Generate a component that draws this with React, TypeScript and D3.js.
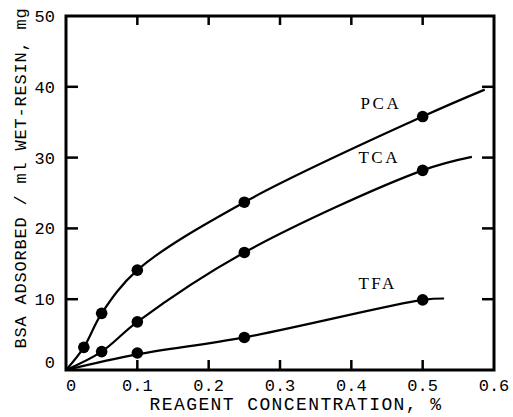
import React from "react";
import * as d3 from "d3";

const W = 513;
const H = 417;

const xTicks = [0, 0.1, 0.2, 0.3, 0.4, 0.5, 0.6];
const xTickLabels = ["0", "0.1", "0.2", "0.3", "0.4", "0.5", "0.6"];
const yTicks = [0, 10, 20, 30, 40, 50];
const yTickLabels = ["0", "10", "20", "30", "40", "50"];

// measured points
const pcaX = [0.025, 0.05, 0.1, 0.25, 0.5];
const pcaY = [3.2, 8.0, 14.1, 23.7, 35.8];
const tcaX = [0.05, 0.1, 0.25, 0.5];
const tcaY = [2.6, 6.8, 16.6, 28.2];
const tfaX = [0.1, 0.25, 0.5];
const tfaY = [2.4, 4.6, 9.9];

// drawn fitted curves (origin, through points, to end)
const pcaCurveX = [0, 0.025, 0.05, 0.1, 0.25, 0.5, 0.587];
const pcaCurveY = [0, 3.2, 8.0, 14.1, 23.7, 35.8, 39.6];
const tcaCurveX = [0, 0.05, 0.1, 0.25, 0.5, 0.569];
const tcaCurveY = [0, 2.6, 6.8, 16.6, 28.2, 30.1];
const tfaCurveX = [0, 0.1, 0.25, 0.5, 0.53];
const tfaCurveY = [0, 2.2, 4.6, 9.9, 10.1];

const seriesNames = ["PCA", "TCA", "TFA"];
const labelAt = [
  [0.413, 36.8],
  [0.41, 29.3],
  [0.41, 11.4],
];

export default function App() {
  const x = d3.scaleLinear().domain([0, 0.6]).range([66, 494]);
  const y = d3.scaleLinear().domain([0, 50]).range([370, 16]);
  const line = d3
    .line<[number, number]>()
    .x((d) => x(d[0]))
    .y((d) => y(d[1]))
    .curve(d3.curveCatmullRom.alpha(0.5));

  const curves = [
    pcaCurveX.map((v, i) => [v, pcaCurveY[i]] as [number, number]),
    tcaCurveX.map((v, i) => [v, tcaCurveY[i]] as [number, number]),
    tfaCurveX.map((v, i) => [v, tfaCurveY[i]] as [number, number]),
  ];
  const pts = [
    pcaX.map((v, i) => [v, pcaY[i]]),
    tcaX.map((v, i) => [v, tcaY[i]]),
    tfaX.map((v, i) => [v, tfaY[i]]),
  ];

  const x0 = x(0), x1 = x(0.6), y0 = y(0), y1 = y(50);
  const mono = "'Liberation Mono', 'DejaVu Sans Mono', monospace";
  const serif = "'Liberation Serif', 'DejaVu Serif', serif";

  return (
    <svg
      width={W}
      height={H}
      style={{ position: "absolute", left: 0, top: 0, background: "#fff" }}
    >
      <rect x={0} y={0} width={W} height={H} fill="#fff" />
      <rect
        x={x0}
        y={y1}
        width={x1 - x0}
        height={y0 - y1}
        fill="none"
        stroke="#000"
        strokeWidth={3}
      />
      {xTicks.slice(1, -1).map((t) => (
        <g key={"xt" + t}>
          <line x1={x(t)} x2={x(t)} y1={y0} y2={y0 - 10} stroke="#000" strokeWidth={2.5} />
          <line x1={x(t)} x2={x(t)} y1={y1} y2={y1 + 9} stroke="#000" strokeWidth={2.5} />
        </g>
      ))}
      {yTicks.slice(1, -1).map((t) => (
        <g key={"yt" + t}>
          <line x1={x0} x2={x0 + 12} y1={y(t)} y2={y(t)} stroke="#000" strokeWidth={2.5} />
          <line x1={x1} x2={x1 - 12} y1={y(t)} y2={y(t)} stroke="#000" strokeWidth={2.5} />
        </g>
      ))}
      {xTicks.map((t, i) => (
        <text
          key={"xl" + t}
          x={x(t) + (i === 0 ? 5 : 0)}
          y={391}
          textAnchor="middle"
          fontFamily={mono}
          fontSize={17}
          fill="#000"
        >
          {xTickLabels[i]}
        </text>
      ))}
      {yTicks.map((t, i) => (
        <text
          key={"yl" + t}
          x={55}
          y={y(t) + 6 - (i === 0 ? 8 : 0)}
          textAnchor="end"
          fontFamily={mono}
          fontSize={17}
          fill="#000"
        >
          {yTickLabels[i]}
        </text>
      ))}
      <text
        x={296}
        y={410}
        textAnchor="middle"
        fontFamily={mono}
        fontSize={18}
        letterSpacing={1.4}
        fill="#000"
      >
        REAGENT CONCENTRATION, %
      </text>
      <text
        transform={`translate(26,178) rotate(-90)`}
        textAnchor="middle"
        fontFamily={mono}
        fontSize={17}
        letterSpacing={0.8}
        fill="#000"
      >
        BSA ADSORBED / ml WET-RESIN, mg
      </text>
      {curves.map((c, i) => (
        <path key={"c" + i} d={line(c) || ""} fill="none" stroke="#000" strokeWidth={2.2} />
      ))}
      {pts.map((s, i) =>
        s.map((p, j) => (
          <circle key={`p${i}-${j}`} cx={x(p[0])} cy={y(p[1])} r={5.8} fill="#000" />
        ))
      )}
      {seriesNames.map((n, i) => (
        <text
          key={n}
          x={x(labelAt[i][0])}
          y={y(labelAt[i][1])}
          fontFamily={serif}
          fontSize={17}
          letterSpacing={2.5}
          fill="#000"
        >
          {n}
        </text>
      ))}
    </svg>
  );
}
